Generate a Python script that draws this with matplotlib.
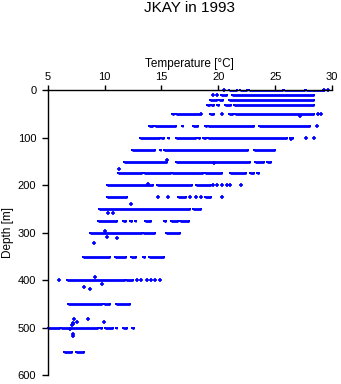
import matplotlib
matplotlib.use("Agg")
import matplotlib.pyplot as plt
import numpy as np

plt.rcParams['font.family'] = ['Liberation Sans', 'DejaVu Sans']

title = "JKAY in 1993"
xlabel = "Temperature [°C]"
ylabel = "Depth [m]"
xticks = [5, 10, 15, 20, 25, 30]
yticks = [0, 100, 200, 300, 400, 500, 600]

# Dense runs of observations at standard depths: (depth, T start, T end)
seg_depth = [0, 0, 0, 0, 0,
             10, 10,
             20, 20, 20,
             30, 30, 30, 30, 30,
             50, 50, 50, 50, 50,
             75, 75, 75, 75, 75, 75, 75,
             100, 100, 100, 100, 100, 100, 100, 100,
             125, 125, 125, 125,
             150, 150, 150, 150,
             175, 175, 175, 175, 175, 175, 175,
             200, 200, 200,
             225, 225, 225,
             250, 250,
             275, 275, 275, 275, 275, 275, 275, 275,
             300, 300, 300,
             350, 350, 350, 350, 350,
             400, 400,
             450, 450, 450,
             500, 500, 500, 500, 500, 500, 500,
             550, 550]
seg_tmin = [20.9, 21.9, 22.7, 25.8, 27.7,
            20.2, 21.2,
            19.3, 20.1, 20.9,
            19.0, 19.4, 19.9, 20.6, 21.4,
            15.9, 16.3, 19.3, 20.9, 21.5,
            13.9, 14.4, 16.8, 17.8, 18.8, 19.1, 23.6,
            13.1, 15.0, 15.6, 16.3, 18.2, 18.7, 19.1, 26.3,
            12.4, 14.9, 15.2, 23.1,
            11.7, 16.3, 23.2, 24.3,
            11.2, 13.5, 15.9, 18.8, 21.0, 22.8, 23.4,
            10.2, 14.6, 18.0,
            10.2, 16.5, 18.8,
            9.5, 17.8,
            9.45, 11.65, 12.2, 12.7, 13.6, 15.2, 15.8, 16.6,
            8.7, 13.4, 15.4,
            8.1, 10.9, 12.3, 13.4, 13.9,
            6.7, 11.9,
            6.75, 9.95, 11.0,
            5.0, 6.2, 9.6, 10.0, 11.0, 11.6, 12.4,
            6.4, 7.5]
seg_tmax = [21.65, 22.5, 25.7, 27.6, 29.2,
            20.8, 28.4,
            19.9, 20.4, 28.4,
            19.3, 19.6, 20.1, 21.1, 28.4,
            16.1, 18.4, 19.6, 21.3, 28.4,
            14.3, 16.3, 16.9, 18.2, 19.0, 23.1, 28.1,
            14.9, 15.2, 15.7, 18.0, 18.4, 18.9, 26.0, 26.6,
            14.4, 15.0, 22.6, 25.0,
            15.5, 22.8, 24.0, 24.6,
            13.3, 15.8, 18.7, 20.3, 22.4, 23.1, 23.6,
            14.3, 17.7, 19.4,
            12.0, 17.2, 19.4,
            17.5, 18.5,
            11.1, 11.9, 12.4, 12.8, 14.1, 15.4, 16.5, 17.4,
            13.3, 14.4, 16.6,
            10.5, 11.9, 12.8, 13.6, 15.2,
            11.8, 12.5,
            9.75, 10.5, 12.2,
            6.1, 9.45, 9.8, 10.7, 11.1, 12.0, 12.6,
            7.1, 8.2]

# Isolated observations: (temperature, depth)
pt_temp = [20.5, 29.3, 29.65,
           19.5, 19.9,
           18.5, 20.3, 28.8, 29.0, 27.2,
           28.7,
           27.7, 28.4, 26.4,
           15.5, 19.6, 11.3,
           19.56, 19.86, 20.3, 20.75, 21.0, 22.0, 13.8,
           14.7, 15.6, 17.5, 18.0, 18.5, 20.3, 12.3,
           10.3, 10.7,
           10.0, 10.2, 11.1, 9.1,
           6.0, 12.85, 13.2, 13.7, 14.1, 14.45, 14.9, 9.15, 8.2, 8.7, 9.8,
           7.3, 8.5, 7.6, 7.2, 7.2, 7.1, 7.0, 7.25, 7.2, 9.95]
pt_depth = [0, 0, 0,
            10, 10,
            50, 50, 50, 50, 54,
            75,
            100, 100, 103,
            147, 152, 165,
            200, 200, 200, 200, 200, 200, 197,
            225, 225, 225, 225, 225, 225, 240,
            259, 259,
            297, 309, 311, 322,
            400, 400, 400, 400, 400, 400, 400, 392, 415, 418, 408,
            482, 482, 487, 489, 492, 495, 503, 513, 518, 488]

W, H = 341, 384
fig = plt.figure(figsize=(W / 100, H / 100), dpi=100)
ax = fig.add_axes([47.7 / W, 1 - 375.3 / H, (332 - 47.7) / W, (375.3 - 90.3) / H])

blue = (0, 0, 1)
ax.hlines(seg_depth, seg_tmin, seg_tmax, colors=[blue], linewidth=2.0, capstyle='butt')
ax.plot(seg_tmin, seg_depth, 's', color=blue, ms=2.0, mew=0, clip_on=False)
ax.plot(seg_tmax, seg_depth, 's', color=blue, ms=2.0, mew=0, clip_on=False)
ax.plot(pt_temp, pt_depth, '+', color=blue, ms=3.5, mew=1.2, clip_on=False)

ax.set_xlim(5, 30)
ax.set_ylim(600, 0)
ax.xaxis.tick_top()
ax.xaxis.set_label_position('top')
ax.set_xticks(xticks)
ax.set_yticks(yticks)
ax.spines['right'].set_visible(False)
ax.spines['bottom'].set_visible(False)
for s in ('top', 'left'):
    ax.spines[s].set_linewidth(1.0)
ax.tick_params(axis='x', direction='out', length=3.8, width=1.0, labelsize=8, pad=2.5)
ax.tick_params(axis='y', direction='out', length=4.2, width=1.0, labelsize=8, pad=4)
ax.set_xlabel(xlabel, fontsize=8.5, labelpad=3)
ax.set_ylabel(ylabel, fontsize=8.5, labelpad=3)

fig.text(190 / W, 1 - 8.5 / H, title, ha='center', va='center', fontsize=11)

fig.savefig("out.png", dpi=100)
